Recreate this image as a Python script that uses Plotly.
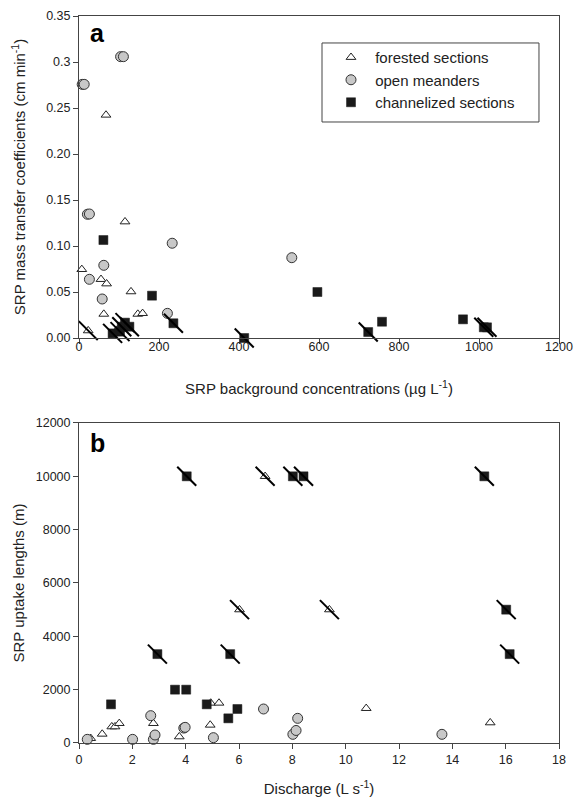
import plotly.graph_objects as go

# ---------------- Panel a data ----------------
a_forested_x = [7, 23, 55, 62, 67.5, 69, 115, 130, 147, 159]
a_forested_y = [0.0746, 0.008, 0.0638, 0.026, 0.2424, 0.059, 0.1264, 0.0504, 0.026, 0.0268]
a_forested_slash = [0, 1, 0, 0, 0, 0, 0, 0, 0, 0]

a_open_x = [8, 13, 21, 26, 26, 58, 62, 100, 104, 111, 221, 233, 532]
a_open_y = [0.2757, 0.2757, 0.1345, 0.1348, 0.0638, 0.0424, 0.079, 0.008, 0.3058, 0.3058, 0.0268, 0.103, 0.0873]

a_chan_x = [61, 84, 102.5, 107, 115, 126, 182.5, 236, 413, 596, 723, 757.5, 960, 1012, 1020]
a_chan_y = [0.1065, 0.005, 0.0069, 0.0123, 0.0167, 0.0123, 0.046, 0.016, 0.0, 0.05, 0.0065, 0.0177, 0.0203, 0.0116, 0.0116]
a_chan_slash = [0, 1, 1, 1, 1, 1, 0, 1, 1, 0, 1, 0, 0, 1, 1]

a_xticks = [0, 200, 400, 600, 800, 1000, 1200]
a_yticks = [0.0, 0.05, 0.10, 0.15, 0.20, 0.25, 0.30, 0.35]
a_yticktext = ["0.00", "0.05", "0.10", "0.15", "0.20", "0.25", "0.3", "0.35"]

# ---------------- Panel b data ----------------
b_forested_x = [0.44, 0.87, 1.23, 1.35, 1.51, 2.79, 3.76, 4.92, 4.94, 5.25, 6.02, 6.98, 9.39, 10.77, 15.42]
b_forested_y = [175, 337, 612, 612, 737, 737, 237, 675, 1500, 1500, 5000, 10000, 5000, 1300, 762]
b_forested_slash = [0, 0, 0, 0, 0, 0, 0, 0, 0, 0, 1, 1, 1, 0, 0]

b_open_x = [0.31, 2.01, 2.69, 2.79, 2.85, 3.93, 3.98, 5.04, 6.92, 8.02, 8.14, 8.2, 13.61]
b_open_y = [137, 137, 1025, 137, 300, 560, 587, 200, 1275, 325, 470, 925, 325]

b_chan_x = [1.2, 2.94, 3.6, 4.02, 4.04, 4.79, 5.6, 5.67, 5.94, 8.02, 8.42, 15.2, 16.02, 16.15]
b_chan_y = [1450, 3333, 2000, 2000, 10000, 1450, 925, 3333, 1275, 10000, 10000, 10000, 5000, 3333]
b_chan_slash = [0, 1, 0, 0, 1, 0, 0, 1, 0, 1, 1, 1, 1, 1]

b_xticks = [0, 2, 4, 6, 8, 10, 12, 14, 16, 18]
b_yticks = [0, 2000, 4000, 6000, 8000, 10000, 12000]
b_yticktext = ["0", "2000", "4000", "6000", "8000", "10000", "12000"]

series_names = ["forested sections", "open meanders", "channelized sections"]

FONT = "Arial, 'Liberation Sans', sans-serif"
AX = "#444444"
TXT = "#222222"

tri = dict(symbol="triangle-up", size=8.5, color="white", line=dict(color="#222", width=1))
circ = dict(symbol="circle", size=10, color="#c8c8c8", line=dict(color="#333", width=1))
sq = dict(symbol="square", size=9, color="#1a1a1a", line=dict(color="#1a1a1a", width=0.5))
slash = dict(symbol="line-nw", size=19, color="black", line=dict(color="black", width=2))

NB = "\u00a0"

def sel(vals, flags):
    return [v for v, f in zip(vals, flags) if f]

fig = go.Figure()

panels = [
    ("x", "y", a_forested_x, a_forested_y, a_forested_slash, a_open_x, a_open_y,
     a_chan_x, a_chan_y, a_chan_slash, True),
    ("x2", "y2", b_forested_x, b_forested_y, b_forested_slash, b_open_x, b_open_y,
     b_chan_x, b_chan_y, b_chan_slash, False),
]

for xa, ya, fx, fy, fs, ox, oy, cx, cy, cs, show in panels:
    fig.add_trace(go.Scatter(x=fx, y=fy, mode="markers", marker=tri, name=NB + series_names[0],
                             xaxis=xa, yaxis=ya, showlegend=show, cliponaxis=False))
    fig.add_trace(go.Scatter(x=ox, y=oy, mode="markers", marker=circ, name=NB + series_names[1],
                             xaxis=xa, yaxis=ya, showlegend=show, cliponaxis=False))
    fig.add_trace(go.Scatter(x=cx, y=cy, mode="markers", marker=sq, name=NB + series_names[2],
                             xaxis=xa, yaxis=ya, showlegend=show, cliponaxis=False))
    fig.add_trace(go.Scatter(x=sel(fx, fs) + sel(cx, cs), y=sel(fy, fs) + sel(cy, cs),
                             mode="markers", marker=slash, xaxis=xa, yaxis=ya, name="limit",
                             showlegend=False, cliponaxis=False, hoverinfo="skip"))

axis_common = dict(showgrid=False, zeroline=False, showline=True, mirror=True,
                   automargin=False,
                   linecolor=AX, linewidth=1, ticks="outside", ticklen=5, tickwidth=1,
                   tickcolor=AX, tickfont=dict(family=FONT, size=12.5, color=TXT))

fig.update_layout(
    width=574, height=801,
    margin=dict(l=79, r=15, t=16, b=58, autoexpand=False),
    paper_bgcolor="white", plot_bgcolor="white",
    font=dict(family=FONT, color=TXT),
    xaxis=dict(axis_common, domain=[0, 1], anchor="y", range=[0, 1200], tickvals=a_xticks,
               ticklabelstandoff=-8,
               title=dict(text="SRP background concentrations (µg L<sup>-1</sup>)",
                          font=dict(family=FONT, size=15, color=TXT), standoff=30)),
    yaxis=dict(axis_common, domain=[0.55708, 1], anchor="x", range=[0, 0.35],
               tickvals=a_yticks, ticktext=a_yticktext,
               title=dict(text="SRP mass transfer coefficients (cm min<sup>-1</sup>)",
                          font=dict(family=FONT, size=15, color=TXT), standoff=16)),
    xaxis2=dict(axis_common, domain=[0, 1], anchor="y2", range=[0, 18], tickvals=b_xticks,
                title=dict(text="Discharge (L s<sup>-1</sup>)",
                           font=dict(family=FONT, size=15, color=TXT), standoff=17)),
    yaxis2=dict(axis_common, domain=[0, 0.44017], anchor="x2", range=[0, 12000],
                tickvals=b_yticks, ticktext=b_yticktext,
                title=dict(text="SRP uptake lengths (m)",
                           font=dict(family=FONT, size=15, color=TXT), standoff=7)),
    legend=dict(x=0.525, xanchor="left", y=0.9656, yanchor="top",
                bgcolor="rgba(0,0,0,0)", borderwidth=0,
                font=dict(family=FONT, size=15, color=TXT), itemsizing="trace",
                tracegroupgap=0),
    shapes=[dict(type="rect", xref="paper", yref="paper",
                 x0=0.50625, x1=0.9583, y0=0.8542, y1=0.9629,
                 line=dict(color=AX, width=1), fillcolor="rgba(0,0,0,0)")],
    annotations=[
        dict(text="<b>a</b>", xref="paper", yref="paper", x=0.018, y=0.9767,
             xanchor="left", yanchor="middle", showarrow=False,
             font=dict(family=FONT, size=25, color="black")),
        dict(text="<b>b</b>", xref="paper", yref="paper", x=0.018, y=0.4127,
             xanchor="left", yanchor="middle", showarrow=False,
             font=dict(family=FONT, size=25, color="black")),
    ],
)

fig.write_html("out.html",
               config={"displayModeBar": False},
               post_script="document.body.style.margin='0px';"
                           "document.body.style.overflow='hidden';")
